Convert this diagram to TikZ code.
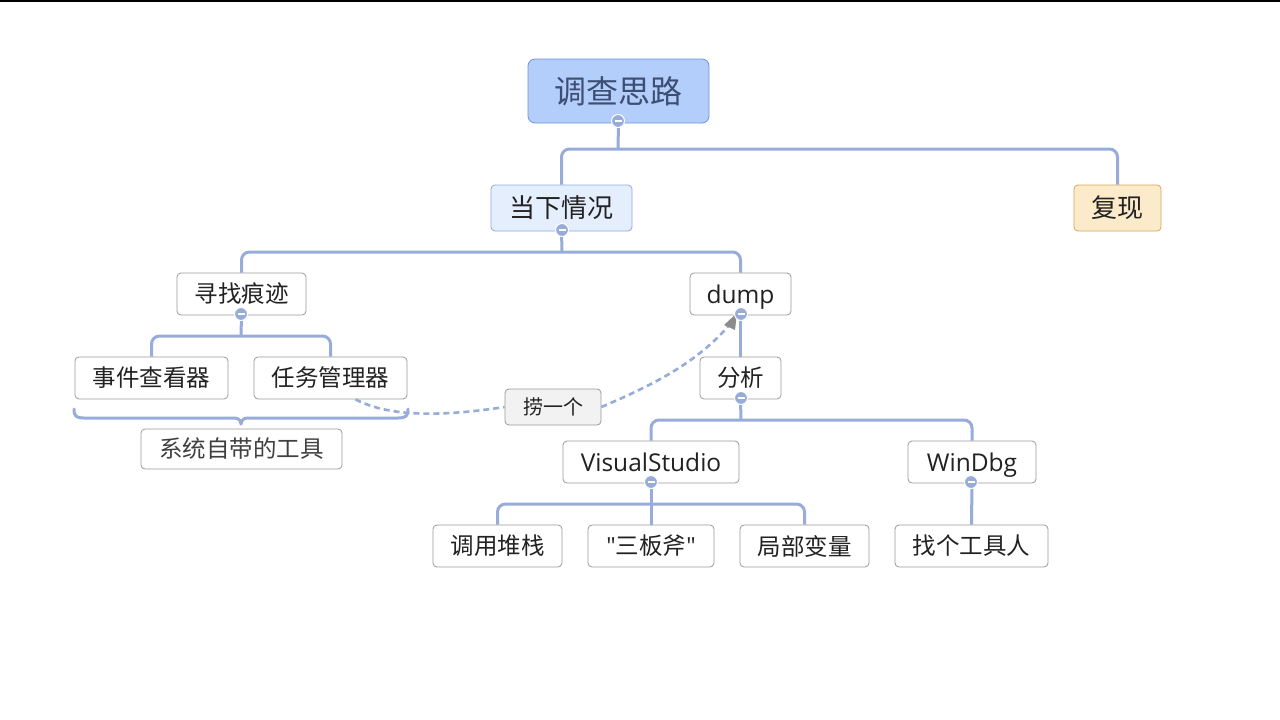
\documentclass[tikz,border=0pt]{standalone}
\usepackage{fontspec}
\setmainfont{Noto Sans CJK SC}
\newfontfamily\latinfont{Open Sans}
\usetikzlibrary{arrows.meta,calc}
\definecolor{conn}{HTML}{97ACD9}
\definecolor{rootfill}{HTML}{B3CEFB}
\definecolor{rootdraw}{HTML}{6F93D6}
\definecolor{roottext}{HTML}{3D4E72}
\definecolor{lonefill}{HTML}{E5EEFD}
\definecolor{lonedraw}{HTML}{8EAAE0}
\definecolor{orfill}{HTML}{FCEBCB}
\definecolor{ordraw}{HTML}{D9A45C}
\definecolor{leafdraw}{HTML}{9A9A9A}
\definecolor{txt}{HTML}{222222}
\tikzset{
  box/.style={rectangle, rounded corners=4pt, inner sep=0pt, line width=0.8pt, text=txt, align=center},
  rootbox/.style={box, fill=rootfill, draw=rootdraw, text=roottext, font=\fontsize{32}{36}\selectfont, rounded corners=7pt},
  lonebox/.style={box, fill=lonefill, draw=lonedraw, font=\fontsize{26}{30}\selectfont},
  orbox/.style={box, fill=orfill, draw=ordraw, font=\fontsize{26}{30}\selectfont},
  leafbox/.style={box, fill=white, draw=leafdraw, font=\fontsize{23.5}{28}\selectfont},
  latinbox/.style={leafbox, font=\latinfont\fontsize{24.5}{28}\selectfont, text height=23pt, text depth=5pt},
  sumbox/.style={leafbox, text=black!75},
  relbox/.style={box, fill=black!5, draw=leafdraw, font=\fontsize{20}{24}\selectfont},
  conn/.style={draw=conn, line width=3pt, rounded corners=8pt},
  rel/.style={draw=conn, line width=2.6pt, dash pattern=on 6pt off 4pt},
}
\newcommand{\collapser}[2]{%
  \node[circle, fill=conn, draw=white, line width=1pt, minimum size=13pt, inner sep=0pt] (#1) at (#2) {};
  \draw[white, line width=1.6pt] ($(#1)+(-3.5,0)$) -- ($(#1)+(3.5,0)$);
}
\begin{document}
\begin{tikzpicture}[x=1pt,y=-1pt]
\useasboundingbox (0,0) rectangle (1280,720);
\fill[white] (0,0) rectangle (1280,720);
\draw[black, line width=1.5pt] (0,0.75) -- (1280,0.75);

% nodes
\node[rootbox, minimum width=181pt, minimum height=64pt] (root) at (618.5,91) {调查思路};
\node[lonebox, minimum width=141pt, minimum height=46pt] (now) at (561.5,208) {当下情况};
\node[orbox, minimum width=87pt, minimum height=46pt] (rep) at (1117.5,208) {复现};
\node[leafbox, minimum width=129pt, minimum height=42pt] (find) at (241.5,294) {寻找痕迹};
\node[latinbox, minimum width=101pt, minimum height=42pt] (dump) at (740.5,294) {dump};
\node[leafbox, minimum width=153pt, minimum height=42pt] (ev) at (151.5,378) {事件查看器};
\node[leafbox, minimum width=153pt, minimum height=42pt] (tm) at (330.5,378) {任务管理器};
\node[sumbox, minimum width=201pt, minimum height=40pt] (sys) at (241.5,449) {系统自带的工具};
\node[leafbox, minimum width=81pt, minimum height=42pt] (ana) at (740.5,378) {分析};
\node[latinbox, minimum width=176pt, minimum height=42pt] (vs) at (651,462) {VisualStudio};
\node[latinbox, minimum width=128pt, minimum height=42pt] (wd) at (972,462) {WinDbg};
\node[leafbox, minimum width=129pt, minimum height=42pt] (cs) at (497.5,546) {调用堆栈};
\node[leafbox, minimum width=126pt, minimum height=42pt] (sbf) at (651,546) {{\latinfont"}三板斧{\latinfont"}};
\node[leafbox, minimum width=129pt, minimum height=42pt] (lv) at (804.5,546) {局部变量};
\node[leafbox, minimum width=153pt, minimum height=42pt] (tool) at (971.5,546) {找个工具人};
\node[relbox, minimum width=96pt, minimum height=36pt] (lao) at (553,407) {捞一个};

% junctions
\coordinate (j0) at (618,149);
\coordinate (j1) at (562,252);
\coordinate (j2) at (241,336);
\coordinate (j3) at (741,420);
\coordinate (j4) at (651,504);

% connectors
\draw[conn] (root.south) -- (j0);
\draw[conn] (now.north) |- (j0) -| (rep.north);
\draw[conn] (now.south) -- (j1);
\draw[conn] (find.north) |- (j1) -| (dump.north);
\draw[conn] (find.south) -- (j2);
\draw[conn] (ev.north) |- (j2) -| (tm.north);
\draw[conn] (dump.south) -- (ana.north);
\draw[conn] (ana.south) -- (j3);
\draw[conn] (vs.north) |- (j3) -| (wd.north);
\draw[conn] (vs.south) -- (sbf.north);
\draw[conn] (cs.north) |- (j4) -| (lv.north);
\draw[conn] (wd.south) -- (tool.north);

% brace
\coordinate (bl) at (74,409);
\coordinate (br) at (408,409);
\coordinate (bt) at (241,424);
\draw[draw=conn, line width=3pt, line cap=round, line join=round]
  (bl) .. controls (74,416) and (76,418) .. (84,418) -- (233,418)
  .. controls (238,418) and (240,419) .. (bt)
  .. controls (242,419) and (244,418) .. (249,418) -- (398,418)
  .. controls (406,418) and (408,416) .. (br);

% relationship
\draw[rel] ($(tm.south)+(25,0)$) .. controls (380,412) and (420,420) .. (lao.west);
\draw[rel] (lao.east) .. controls (660,382) and (700,360) .. (732,322);
\fill[black!45] (737,313) -- (724,325) -- (735,330) -- cycle;

% collapse markers
\collapser{c0}{618,121}
\collapser{c1}{562,230}
\collapser{c2}{241,314}
\collapser{c3}{741,314}
\collapser{c4}{741,398}
\collapser{c5}{651,482}
\collapser{c6}{971,482}
\end{tikzpicture}
\end{document}
